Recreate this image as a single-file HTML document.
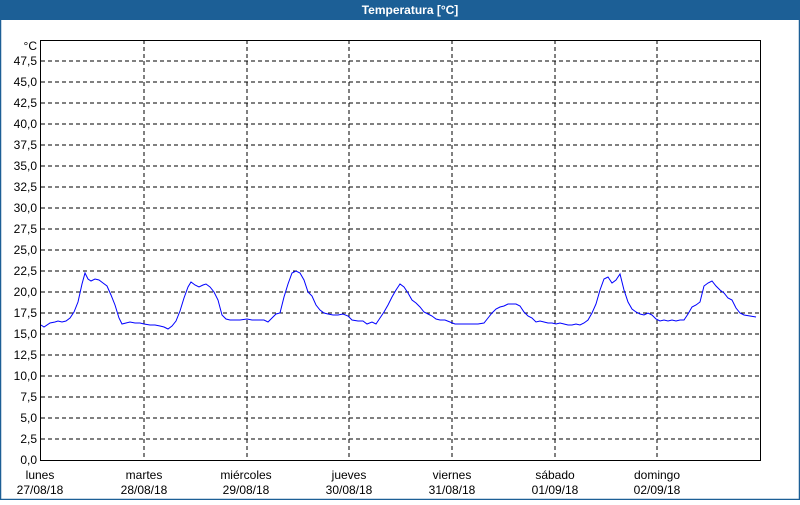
<!DOCTYPE html>
<html><head><meta charset="utf-8"><style>
body{margin:0;width:800px;height:500px;overflow:hidden;background:#fff;font-family:"Liberation Sans",sans-serif}
</style></head><body>
<svg width="800" height="500" xmlns="http://www.w3.org/2000/svg" font-family="Liberation Sans, sans-serif" font-size="12">
<rect x="0" y="0" width="800" height="500" fill="#fff"/>
<rect x="0.5" y="0.5" width="799" height="499" fill="none" stroke="#1c5f96" stroke-width="1.5"/>
<rect x="0" y="0" width="800" height="20" fill="#1c5f96"/>
<text x="410" y="14" fill="#fff" font-weight="bold" font-size="12" text-anchor="middle">Temperatura [°C]</text>
<g stroke="#000" stroke-dasharray="4,3" stroke-width="1">
<line x1="41" y1="61" x2="760" y2="61"/><line x1="41" y1="82" x2="760" y2="82"/><line x1="41" y1="103" x2="760" y2="103"/><line x1="41" y1="124" x2="760" y2="124"/><line x1="41" y1="145" x2="760" y2="145"/><line x1="41" y1="166" x2="760" y2="166"/><line x1="41" y1="187" x2="760" y2="187"/><line x1="41" y1="208" x2="760" y2="208"/><line x1="41" y1="229" x2="760" y2="229"/><line x1="41" y1="250" x2="760" y2="250"/><line x1="41" y1="271" x2="760" y2="271"/><line x1="41" y1="292" x2="760" y2="292"/><line x1="41" y1="313" x2="760" y2="313"/><line x1="41" y1="334" x2="760" y2="334"/><line x1="41" y1="355" x2="760" y2="355"/><line x1="41" y1="376" x2="760" y2="376"/><line x1="41" y1="397" x2="760" y2="397"/><line x1="41" y1="418" x2="760" y2="418"/><line x1="41" y1="439" x2="760" y2="439"/>
<line x1="144" y1="40" x2="144" y2="460"/><line x1="247" y1="40" x2="247" y2="460"/><line x1="349" y1="40" x2="349" y2="460"/><line x1="452" y1="40" x2="452" y2="460"/><line x1="555" y1="40" x2="555" y2="460"/><line x1="657" y1="40" x2="657" y2="460"/>
</g>
<rect x="40.5" y="40.5" width="720" height="420" fill="none" stroke="#000" stroke-width="1"/>
<g text-anchor="end" fill="#000">
<text x="37" y="50">°C</text>
<text x="37" y="65">47,5</text><text x="37" y="86">45,0</text><text x="37" y="107">42,5</text><text x="37" y="128">40,0</text><text x="37" y="149">37,5</text><text x="37" y="170">35,0</text><text x="37" y="191">32,5</text><text x="37" y="212">30,0</text><text x="37" y="233">27,5</text><text x="37" y="254">25,0</text><text x="37" y="275">22,5</text><text x="37" y="296">20,0</text><text x="37" y="317">17,5</text><text x="37" y="338">15,0</text><text x="37" y="359">12,5</text><text x="37" y="380">10,0</text><text x="37" y="401">7,5</text><text x="37" y="422">5,0</text><text x="37" y="443">2,5</text><text x="37" y="464">0,0</text>
</g>
<g text-anchor="middle" fill="#000">
<text x="40" y="479">lunes</text><text x="40" y="494">27/08/18</text>
<text x="144" y="479">martes</text><text x="144" y="494">28/08/18</text>
<text x="246" y="479">miércoles</text><text x="246" y="494">29/08/18</text>
<text x="349" y="479">jueves</text><text x="349" y="494">30/08/18</text>
<text x="452" y="479">viernes</text><text x="452" y="494">31/08/18</text>
<text x="555" y="479">sábado</text><text x="555" y="494">01/09/18</text>
<text x="657" y="479">domingo</text><text x="657" y="494">02/09/18</text>
</g>
<polyline fill="none" stroke="#0000ff" stroke-width="1" points="41,325 44,327 50,323 55,322 58,321 62,322 66,321 70,318 74,312 78,302 82,284 85,273 88,279 91,281 95,279 99,280 103,283 107,286 111,295 115,305 119,318 122,324 126,323 130,322 135,323 140,323 144,324 150,325 155,325 160,326 164,327 168,329 172,326 176,321 180,311 184,298 188,287 191,282 195,285 199,287 203,285 206,284 210,287 214,292 218,300 222,315 226,319 230,320 235,320 240,320 247,319 252,320 258,320 264,320 268,322 272,318 276,314 280,313 284,297 288,284 292,273 296,271 300,273 304,280 308,292 312,296 316,305 320,310 324,313 328,314 333,315 338,315 343,314 348,316 352,320 358,321 363,321 367,324 372,322 376,324 380,318 384,312 388,305 392,297 396,290 400,284 404,287 408,293 412,300 416,303 420,307 424,312 428,314 432,316 436,319 440,320 445,320 450,322 455,324 460,324 466,324 472,324 478,324 484,323 488,318 492,313 496,309 500,307 504,306 508,304 512,304 516,304 520,306 524,312 528,316 532,318 536,322 540,321 544,322 548,323 552,323 556,324 560,323 564,324 568,325 572,325 576,324 580,325 584,323 588,320 592,313 596,304 600,290 604,279 608,277 612,283 616,280 620,274 624,290 628,302 632,309 636,312 640,314 644,315 648,313 652,315 656,319 660,321 664,320 668,321 672,320 676,321 680,320 684,320 688,314 692,307 696,305 700,302 704,286 708,283 712,281 716,286 720,290 724,293 728,298 732,300 736,308 740,313 744,315 750,316 756,317"/>
</svg>
</body></html>
